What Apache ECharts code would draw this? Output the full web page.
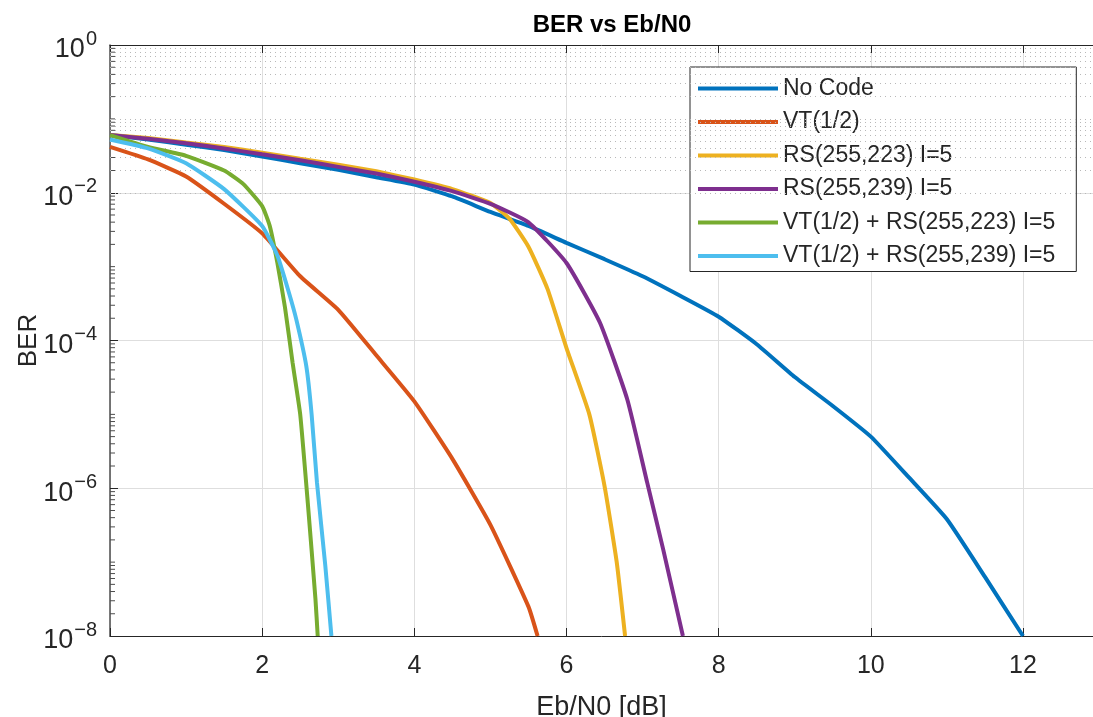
<!DOCTYPE html>
<html>
<head>
<meta charset="utf-8">
<script src="https://cdn.jsdelivr.net/npm/echarts@6/dist/echarts.min.js"></script>
<style>
  html, body { margin: 0; padding: 0; background: #fff; overflow: hidden; }
  #main { width: 1093px; height: 717px; }
</style>
</head>
<body>
<div id="main"></div>
<script>
// Eb/N0 points and BER values
const seriesNames = ['No Code', 'VT(1/2)', 'RS(255,223) I=5', 'RS(255,239) I=5',
  'VT(1/2) + RS(255,223) I=5', 'VT(1/2) + RS(255,239) I=5'];

const noCodeX = [0, 0.5, 1, 1.5, 2, 2.5, 3, 3.5, 4, 4.5, 5, 5.5, 6, 6.5, 7, 7.5, 8, 8.5, 9, 9.5, 10, 10.5, 11, 11.5, 12];
const noCodeBer = [0.0603, 0.0525, 0.0447, 0.038, 0.0309, 0.0251, 0.0204, 0.0162, 0.0129, 0.0089, 0.0055, 0.00355,
  0.0021, 0.00126, 7.4e-4, 4.0e-4, 2.1e-4, 8.9e-5, 3.2e-5, 1.3e-5, 5.0e-6, 1.4e-6, 3.8e-7, 6.3e-8, 1.0e-8];

const vtX = [0, 0.5, 1, 1.5, 2, 2.5, 3, 3.5, 4, 4.5, 5, 5.5, 5.62];
const vtBer = [0.0417, 0.0282, 0.0166, 0.0071, 0.00282, 7.4e-4, 2.6e-4, 6.3e-5, 1.5e-5, 2.5e-6, 3.2e-7, 2.5e-8, 1.0e-8];

const rs223X = [0, 0.5, 1, 1.5, 2, 2.5, 3, 3.5, 4, 4.5, 5, 5.25, 5.5, 5.75, 6, 6.3, 6.5, 6.66, 6.77];
const rs223Ber = [0.0603, 0.055, 0.0479, 0.0417, 0.0347, 0.0288, 0.024, 0.0195, 0.0151, 0.0112, 0.00724, 0.00447,
  0.00186, 5.0e-4, 7.9e-5, 1.0e-5, 1.07e-6, 1.0e-7, 1.0e-8];

const rs239X = [0, 0.5, 1, 1.5, 2, 2.5, 3, 3.5, 4, 4.5, 5, 5.5, 6, 6.44, 6.8, 7.06, 7.27, 7.53];
const rs239Ber = [0.0603, 0.0537, 0.0468, 0.0398, 0.0331, 0.0275, 0.0224, 0.0182, 0.0141, 0.0105, 0.00708, 0.00398,
  0.00112, 1.74e-4, 1.58e-5, 1.2e-6, 1.5e-7, 1.0e-8];

const vtRs223X = [0, 0.5, 1, 1.5, 1.75, 2, 2.1, 2.2, 2.3, 2.4, 2.5, 2.6, 2.7, 2.73];
const vtRs223Ber = [0.0603, 0.0417, 0.0316, 0.02, 0.0132, 0.0066, 0.00355, 0.00112, 2.8e-4, 5.0e-5, 1.0e-5, 6.3e-7, 3.2e-8, 1.0e-8];

const vtRs239X = [0, 0.5, 1, 1.5, 2, 2.2, 2.35, 2.45, 2.58, 2.65, 2.72, 2.83, 2.91];
const vtRs239Ber = [0.0525, 0.0398, 0.0251, 0.0112, 0.00355, 0.00141, 4.5e-4, 1.9e-4, 4.5e-5, 1.0e-5, 1.2e-6, 8.9e-8, 1.0e-8];

// MATLAB default line colours
const colors = ['#0072BD', '#D95319', '#EDB120', '#7E2F8E', '#77AC30', '#4DBEEE'];

// minor log grid values: 2..9 x 10^k, plus the odd decades
const minorMultipliers = [2, 3, 4, 5, 6, 7, 8, 9];
const decades = [-8, -7, -6, -5, -4, -3, -2, -1];

const xs = [noCodeX, vtX, rs223X, rs239X, vtRs223X, vtRs239X];
const ys = [noCodeBer, vtBer, rs223Ber, rs239Ber, vtRs223Ber, vtRs239Ber];

const minorValues = [];
decades.forEach(k => {
  if (k % 2 !== 0) minorValues.push(Math.pow(10, k));
  minorMultipliers.forEach(m => minorValues.push(m * Math.pow(10, k)));
});

const textColor = '#262626';
const font = '"Liberation Sans", Arial, Helvetica, sans-serif';

const chart = echarts.init(document.getElementById('main'));

const lineSeries = seriesNames.map((name, i) => ({
  name: name,
  type: 'line',
  data: xs[i].map((x, j) => [x, ys[i][j]]),
  symbol: 'none',
  smooth: 0.15,
  color: colors[i],
  lineStyle: { width: 4, color: colors[i] },
  z: 10 + i
}));

// dotted minor grid lines for the log axis
lineSeries.push({
  name: 'minorGrid',
  type: 'line',
  data: [],
  silent: true,
  markLine: {
    silent: true,
    symbol: 'none',
    animation: false,
    label: { show: false },
    lineStyle: { type: [1, 4], color: '#b8b8b8', width: 1 },
    data: minorValues.map(v => ({ yAxis: v }))
  }
});

// short minor tick marks on the left axis
lineSeries.push({
  name: 'minorTicks',
  type: 'custom',
  silent: true,
  data: minorValues.map(v => [0, v]),
  renderItem: function (params, api) {
    const p = api.coord([api.value(0), api.value(1)]);
    return {
      type: 'line',
      shape: { x1: p[0], y1: p[1], x2: p[0] + 5, y2: p[1] },
      style: { stroke: '#4d4d4d', lineWidth: 1 }
    };
  },
  z: 3
});

// the axes box is cut by the right edge of the figure, a bit short of 13
const xMax = 12.92;

const option = {
  animation: false,
  textStyle: { fontFamily: font, color: textColor },
  title: {
    text: 'BER vs Eb/N0',
    left: 607,
    textAlign: 'center',
    top: 8,
    textStyle: { fontFamily: font, fontSize: 24, fontWeight: 'bold', color: '#000' }
  },
  grid: { left: 110, top: 45, right: 0, bottom: 81, outerBoundsMode: 'none' },
  legend: {
    data: seriesNames,
    orient: 'vertical',
    left: 690,
    top: 67,
    icon: 'rect',
    itemWidth: 80,
    itemHeight: 4,
    itemGap: 10.5,
    padding: [10, 21, 4, 8],
    borderColor: textColor,
    borderWidth: 1,
    backgroundColor: '#fff',
    textStyle: { fontFamily: font, fontSize: 23, color: textColor, lineHeight: 23 }
  },
  xAxis: [{
    type: 'value',
    min: 0,
    max: xMax,
    interval: 2,
    name: 'Eb/N0 [dB]',
    nameLocation: 'middle',
    nameGap: 58,
    nameMoveOverlap: false,
    nameTextStyle: { fontFamily: font, fontSize: 27, color: textColor },
    axisLine: { onZero: false, lineStyle: { color: textColor, width: 1 } },
    axisTick: { inside: true, length: 8, lineStyle: { color: textColor } },
    axisLabel: { fontFamily: font, fontSize: 25, color: textColor, margin: 18, showMaxLabel: false },
    splitLine: { show: true, lineStyle: { color: '#dedede', width: 1 } }
  }, {
    type: 'value',
    position: 'top',
    min: 0,
    max: xMax,
    interval: 2,
    axisLine: { onZero: false, lineStyle: { color: textColor, width: 1 } },
    axisTick: { inside: true, length: 8, lineStyle: { color: textColor } },
    axisLabel: { show: false },
    splitLine: { show: false }
  }],
  yAxis: [{
    type: 'log',
    logBase: 10,
    min: 1e-8,
    max: 1,
    interval: 2,
    name: 'BER',
    nameLocation: 'middle',
    nameGap: 68,
    nameMoveOverlap: false,
    nameTextStyle: { fontFamily: font, fontSize: 26, color: textColor },
    axisLine: { onZero: false, lineStyle: { color: '#4d4d4d', width: 1.5 } },
    axisTick: { inside: true, length: 8, lineStyle: { color: textColor } },
    axisLabel: {
      margin: 13,
      formatter: function (v) {
        const e = Math.round(Math.log10(v));
        return '{b|10}{s|' + (e < 0 ? '\u2212' + (-e) : e) + '}';
      },
      rich: {
        b: { fontFamily: font, fontSize: 27, color: textColor, padding: [10, 0, 0, 0] },
        s: { fontFamily: font, fontSize: 20, color: textColor, padding: [0, 0, 12, 1] }
      }
    },
    splitLine: { show: true, lineStyle: { color: '#dedede', width: 1 } }
  }],
  series: lineSeries
};

chart.setOption(option);
</script>
</body>
</html>
